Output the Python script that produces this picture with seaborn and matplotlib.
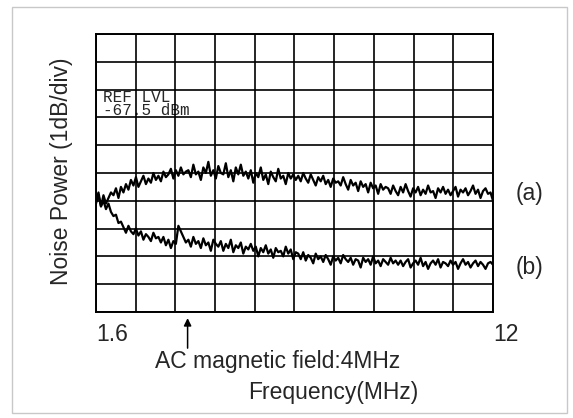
import numpy as np
import pandas as pd
import seaborn as sns
import matplotlib.pyplot as plt
from matplotlib.patches import Rectangle

# sweep settings of the analyser
f_start = 1.6   # MHz
f_stop = 12.0   # MHz
ref_level = -67.5  # dBm at top line, 1 dB/div

# noise power in divisions above the bottom graticule line
trace_a = [
    4.0, 4.3, 3.8, 4.2, 3.9, 4.1, 4.3,
    4.2, 4.45, 4.1, 4.5, 4.3, 4.6,
    4.4, 4.75, 4.55, 4.85, 4.5, 4.7, 4.9, 4.6,
    4.8, 4.65, 5.0, 4.75, 4.9, 4.7, 5.05, 4.85,
    4.95, 5.15, 4.8, 5.1, 4.9, 5.2, 4.95, 5.05,
    5.1, 4.85, 5.3, 4.95, 5.05, 4.75, 5.2, 5.0, 5.4, 4.9, 5.1, 4.8,
    5.25, 5.0, 4.95, 5.35, 4.85, 5.1, 4.7, 5.2, 4.95, 5.3, 4.9, 5.05,
    4.8, 5.1, 4.65, 5.0, 4.85, 5.2, 4.75, 4.95, 4.6, 5.05,
    4.85, 4.7, 5.15, 4.8, 4.9, 4.6, 5.0, 4.8, 4.95, 4.75,
    4.9, 4.7, 5.0, 4.8, 4.65, 4.95, 4.75, 4.55, 4.85, 4.7, 4.9, 4.6, 4.75, 4.5, 4.8, 4.65,
    4.7, 4.55, 4.85, 4.6, 4.4, 4.75, 4.55, 4.65, 4.35, 4.7,
    4.5, 4.6, 4.3, 4.65, 4.45, 4.55, 4.25, 4.6, 4.4, 4.5,
    4.45, 4.25, 4.55, 4.35, 4.2, 4.5, 4.3, 4.6, 4.35, 4.15,
    4.45, 4.3, 4.5, 4.2, 4.4, 4.25, 4.55, 4.3, 4.35, 4.1,
    4.45, 4.3, 4.5, 4.25, 4.4, 4.2, 4.35, 4.5, 4.15, 4.4,
    4.3, 4.45, 4.2, 4.35, 4.55, 4.25, 4.4, 4.1, 4.35, 4.45,
    4.25, 4.3, 4.0,
]

trace_b = [
    3.9, 4.2, 3.8, 4.0, 3.7, 3.9,
    3.6, 3.45, 3.5, 3.2, 3.25,
    3.05, 2.85, 3.1, 2.9, 2.8, 3.0,
    2.75, 2.9, 2.6, 2.8, 2.7, 2.55, 2.85, 2.65, 2.7,
    2.5, 2.7, 2.4, 2.6, 2.3, 2.55, 2.45,
    3.1, 2.9, 2.7, 2.5,
    2.6, 2.35, 2.7, 2.45, 2.55, 2.3, 2.65, 2.4, 2.5, 2.2, 2.6, 2.45,
    2.35, 2.55, 2.2, 2.45, 2.3, 2.6, 2.15, 2.4, 2.3, 2.5, 2.1, 2.35,
    2.25, 2.45, 2.2, 2.35, 2.0, 2.3, 2.15, 2.4, 2.1, 2.25,
    1.95, 2.3, 2.15, 2.2, 2.0, 2.35, 2.1, 2.25, 1.9, 2.15,
    2.1, 1.9, 2.15, 1.85, 2.05, 1.95, 1.75, 2.1, 1.9, 2.0,
    1.8, 2.05, 1.9, 1.7, 2.0, 1.85, 1.95, 1.75, 2.05, 1.9,
    1.8, 1.95, 1.7, 1.9, 1.85, 1.6, 1.95, 1.8, 1.9, 1.7,
    2.0, 1.75, 1.85, 1.65, 1.9, 1.8, 1.7, 1.95, 1.75, 1.85,
    1.7, 1.85, 1.65, 1.8, 1.9, 1.6, 1.75, 1.85, 1.7, 1.95,
    1.65, 1.8, 1.55, 1.75, 1.85, 1.7, 1.9, 1.6, 1.8, 1.75,
    1.65, 1.85, 1.7, 1.8, 1.55, 1.75, 1.9, 1.7, 1.8, 1.6,
    1.75, 1.85, 1.65, 1.8, 1.7, 1.55, 1.75, 1.8, 1.7,
]

ac_field_freq = 4.0  # MHz

df_a = pd.DataFrame({"freq": np.linspace(f_start, f_stop, len(trace_a)), "power": trace_a})
df_b = pd.DataFrame({"freq": np.linspace(f_start, f_stop, len(trace_b)), "power": trace_b})

sns.set_style("white")
plt.rcParams["font.family"] = ["Liberation Sans", "DejaVu Sans"]

fig = plt.figure(figsize=(5.73, 4.18), dpi=100)
ax = fig.add_axes([0.1675, 0.2536, 0.6929, 0.6651])

sns.lineplot(data=df_a, x="freq", y="power", color="black", lw=1.6, ax=ax)
sns.lineplot(data=df_b, x="freq", y="power", color="black", lw=1.6, ax=ax)

ax.set_xlim(f_start, f_stop)
ax.set_ylim(0, 10)
ax.set_xticks(np.linspace(f_start, f_stop, 11))
xlabels = [""] * 11
xlabels[0] = "1.6"
xlabels[-1] = "12"
ax.set_xticklabels(xlabels, fontsize=16.5, ha="left")
ax.set_yticks(np.arange(0, 11, 1))
ax.set_yticklabels([])
ax.tick_params(length=0, pad=8)
ax.grid(True, color="black", lw=1.2)
for s in ax.spines.values():
    s.set_color("black")
    s.set_linewidth(1.4)
ax.set_xlabel("")
ax.set_ylabel("")

# analyser readout, the decimal point sits under a graticule line
ax.text(0.018, 0.748, "REF LVL\n-67.5 dBm", transform=ax.transAxes,
        family="Liberation Mono", fontsize=11.5, linespacing=0.8,
        va="center", ha="left", zorder=0.4)

ax.annotate("", xy=(ac_field_freq, -0.012), xycoords=("data", "axes fraction"),
            xytext=(ac_field_freq, -0.14), textcoords=("data", "axes fraction"),
            arrowprops=dict(arrowstyle="-|>", color="black", lw=1.1, mutation_scale=11),
            annotation_clip=False)

fig.text(0.2705, 0.134, "AC magnetic field:4MHz", fontsize=16.5, va="center")
fig.text(0.4328, 0.060, "Frequency(MHz)", fontsize=16.5, va="center")
fig.text(0.108, 0.591, "Noise Power (1dB/div)", fontsize=16.5, rotation=90,
         ha="center", va="center")
fig.text(0.899, 0.538, "(a)", fontsize=16.5, va="center")
fig.text(0.899, 0.361, "(b)", fontsize=16.5, va="center")

fig.patches.append(Rectangle((12 / 573, 5 / 418), 555 / 573, 406 / 418,
                             transform=fig.transFigure, fill=False,
                             edgecolor="#c8c8c8", lw=1.0))

fig.savefig("out.png", dpi=100)
